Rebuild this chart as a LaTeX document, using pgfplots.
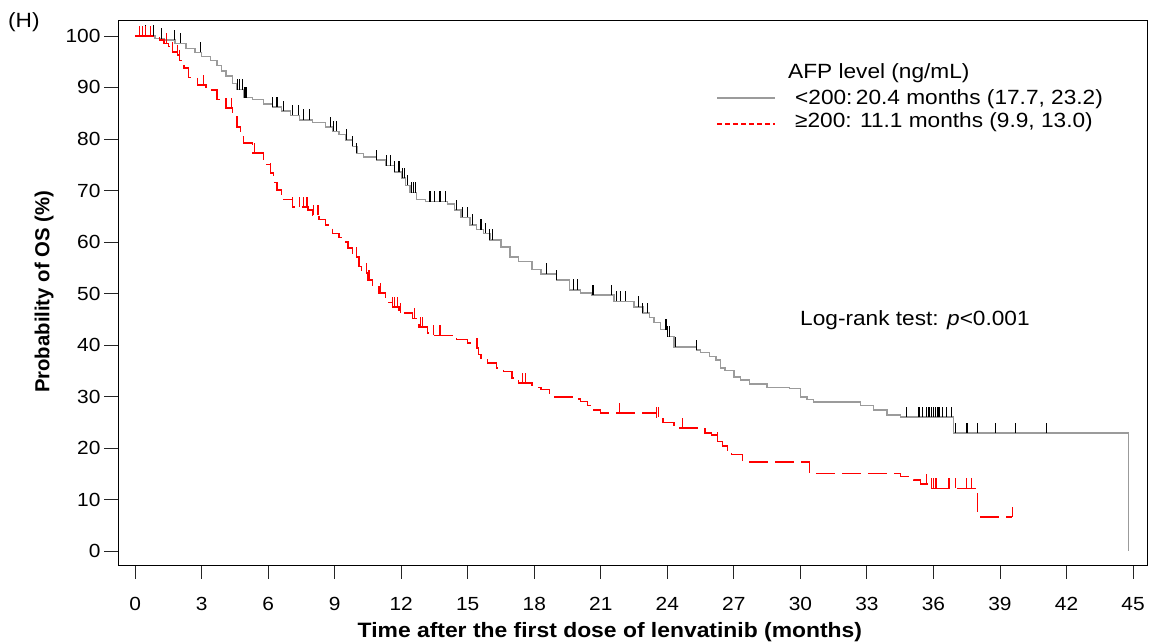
\documentclass[border=0pt]{standalone}
\usepackage{fontspec}
\setmainfont[FakeStretch=1.1]{Liberation Sans}
\newfontfamily\plainfont{Liberation Sans}
\usepackage{pgfplots}
\pgfplotsset{compat=1.18}
\definecolor{kmgray}{RGB}{155,155,155}
\definecolor{kmred}{RGB}{255,0,0}
\pgfdeclareplotmark{cens}{\pgfpathmoveto{\pgfqpoint{0pt}{0pt}}\pgfpathlineto{\pgfqpoint{0pt}{\pgfplotmarksize}}\pgfusepathqstroke}

\begin{document}
\begin{tikzpicture}
\path[use as bounding box] (0pt,0pt) rectangle (1149pt,644pt);
\begin{axis}[
  at={(118pt,79pt)}, anchor=south west,
  scale only axis, width=1029pt, height=545pt,
  xmin=-0.77, xmax=45.63, ymin=-2.72, ymax=103.1,
  xtick={0,3,...,45}, ytick={0,10,...,100},
  xtick pos=bottom, ytick pos=left,
  tick align=outside, major tick length=14pt,
  axis line style={line width=0.9pt, black},
  tick style={line width=0.9pt, black!85},
  /pgf/number format/assume math mode=true,
  ticklabel style={font=\fontsize{19}{22}\selectfont},
  xticklabel style={yshift=-15pt},
  xlabel={Time after the first dose of lenvatinib (months)},
  ylabel={Probability of OS (\%)},
  xlabel style={at={(axis description cs:0.478,-0.123)}, anchor=center, font=\fontsize{20.8}{24}\selectfont\bfseries},
  ylabel style={at={(axis description cs:-0.0719,0.501)}, anchor=center, font=\plainfont\fontsize{20.3}{24}\selectfont\bfseries},
]
% <200 group (gray)
\addplot[const plot, kmgray, line width=1.3pt] coordinates {
(0,100) (0.9,99.5) (1.3,99.2) (1.8,98.6) (2.3,97.6) (2.7,96.8) (3.0,96.0) (3.4,95.3)
(3.7,94.2) (3.9,93.2) (4.1,92.2) (4.4,90.8) (4.6,89.6) (4.9,88.0) (5.3,87.6) (5.8,86.8)
(6.2,86.2) (6.6,85.4) (7.0,84.6) (7.4,83.7) (8.0,83.2) (8.6,82.3) (8.9,81.5) (9.2,80.8)
(9.5,79.8) (9.8,78.6) (10.0,77.2) (10.3,76.5) (10.9,75.9) (11.3,74.8) (11.7,73.6)
(12.0,72.4) (12.2,71.0) (12.4,69.6) (12.7,68.2) (13.1,67.8) (14.1,67.4) (14.4,66.2)
(14.7,64.8) (15.1,63.3) (15.4,62.4) (15.7,61.7) (16.0,60.4) (16.5,59.0) (16.9,57.1)
(17.3,56.2) (17.9,54.6) (18.3,53.8) (19.0,52.6) (19.6,50.7) (20.1,50.1) (20.6,49.7)
(21.6,48.5) (22.5,47.4) (22.9,46.2) (23.2,45.3) (23.4,44.3) (23.7,43.0) (24.0,41.6)
(24.3,39.6) (25.3,39.0) (25.5,38.6) (25.9,37.8) (26.2,37.1) (26.4,35.5) (26.6,35.1)
(27.0,33.8) (27.3,33.2) (27.7,32.4) (28.5,31.8) (29.5,31.6) (30.0,29.9) (30.3,29.4)
(30.6,28.9) (32.7,28.3) (33.3,27.4) (33.9,26.4) (34.5,26.0) (36.9,22.9) (44.8,22.9) (44.8,0)
};
% >=200 group (red dashed)
\addplot[const plot, kmred, line width=1.3pt, dash pattern=on 19pt off 7pt] coordinates {
(0,100) (0.9,99.6) (1.1,99.2) (1.3,98.6) (1.5,98.0) (1.7,96.9) (1.9,96.3) (2.0,95.3)
(2.2,93.8) (2.4,92.0) (2.8,90.5) (3.2,89.5) (3.7,87.6) (4.1,86.0) (4.4,84.3) (4.6,82.3)
(4.75,80.5) (4.9,79.2) (5.3,77.3) (5.8,75.0) (6.1,73.4) (6.25,71.5) (6.4,70.1) (6.6,69.0)
(6.7,68.2) (7.1,66.8) (7.8,66.2) (8.0,65.2) (8.3,64.3) (8.6,63.3) (8.9,61.7) (9.2,60.8)
(9.4,60.0) (9.6,58.8) (9.8,57.1) (10.1,55.2) (10.2,54.0) (10.5,52.6) (10.7,51.3)
(11.0,50.1) (11.3,48.2) (11.6,47.4) (11.9,46.2) (12.5,45.2) (12.7,44.3) (12.8,43.5)
(13.2,42.3) (13.4,41.9) (14.5,41.1) (15.0,40.4) (15.4,39.4) (15.5,38.2) (15.6,37.1)
(15.9,36.5) (16.3,35.5) (16.6,34.8) (17.0,33.6) (17.3,32.6) (17.9,31.8) (18.3,31.4)
(18.7,29.9) (19.7,29.5) (20.1,29.0) (20.4,28.3) (20.6,27.4) (21.0,26.8) (23.5,26.0)
(23.8,25.0) (24.3,23.9) (25.7,22.9) (26.0,22.5) (26.2,21.2) (26.5,20.4) (26.7,19.6)
(26.9,18.8) (27.4,17.3) (30.4,15.1) (34.5,14.4) (35.1,13.8) (35.4,13.0) (35.8,12.2)
(38.0,6.6) (39.55,6.6)
};
% censor marks <200
\addplot[only marks, mark=cens, mark size=10.5pt, black, line width=1.1pt] coordinates {
(0.45,100) (0.83,100) (1.2,99.5) (1.76,99.2) (2.03,98.6) (2.93,96.8)
(4.6,89.6) (4.7,89.6) (4.85,89.6) (4.95,88.0) (5.0,88.0)
(6.2,86.2) (6.4,86.2) (6.7,85.4) (7.1,84.6) (7.35,84.6) (7.6,83.7) (7.85,83.7)
(8.8,82.3) (8.95,81.5) (9.1,81.5) (9.55,79.8) (9.8,78.6) (10.0,77.2) (10.9,75.9)
(11.35,74.8) (11.5,74.8) (11.7,73.6) (11.9,73.6) (12.05,72.4) (12.15,72.4) (12.3,71.0)
(12.45,69.6) (12.55,69.6) (12.65,69.6) (13.3,67.8) (13.5,67.8) (13.75,67.8) (14.0,67.8)
(14.5,66.2) (14.75,64.8) (15.0,64.8) (15.2,63.3) (15.6,62.4) (15.8,61.7) (16.0,60.4) (16.1,60.4)
(18.55,53.8) (19.0,52.6) (19.75,50.7) (19.95,50.7) (20.65,49.7)
(21.5,49.7) (21.7,48.5) (21.9,48.5) (22.1,48.5) (22.7,47.4) (22.9,46.2) (23.1,46.2)
(23.9,43.0) (23.95,43.0) (24.0,41.6) (24.1,41.6) (24.35,39.6) (25.3,39.0)
(34.8,26.0) (35.35,26.0) (35.5,26.0) (35.7,26.0) (35.8,26.0) (35.9,26.0) (36.0,26.0)
(36.1,26.0) (36.2,26.0) (36.25,26.0) (36.4,26.0) (36.6,26.0) (36.8,26.0)
(37.0,22.9) (37.5,22.9) (37.55,22.9) (38.0,22.9) (38.8,22.9) (39.7,22.9) (41.1,22.9)
};
% censor marks >=200
\addplot[only marks, mark=cens, mark size=10pt, kmred, line width=1.1pt] coordinates {
(0.2,100) (0.35,100) (0.45,100) (0.68,100) (1.4,98.6) (1.7,96.9) (1.9,96.3) (2.0,95.3)
(2.4,92.0) (3.1,90.5) (4.1,86.0) (4.35,86.0) (5.4,77.3) (6.1,73.4)
(7.1,66.8) (7.4,66.8) (7.6,66.8) (7.75,66.8) (8.05,65.2) (8.25,65.2)
(10.0,57.1) (10.45,54.0) (10.55,52.6) (11.05,50.1)
(11.6,47.4) (11.7,47.4) (11.85,47.4) (11.95,46.2) (12.6,45.2) (12.85,43.5) (12.95,43.5)
(13.45,41.9) (13.75,41.9) (15.4,39.4) (15.45,39.4) (17.45,32.6) (17.6,32.6)
(21.85,26.8) (23.5,26.0) (23.6,26.0) (24.7,23.9) (26.25,21.2)
(35.7,13.0) (35.9,12.2) (36.0,12.2) (36.1,12.2) (36.15,12.2) (36.7,12.2) (37.0,12.2)
(37.5,12.2) (37.7,12.2) (39.55,6.6)
};
\end{axis}
% legend
\draw[kmgray, line width=1.3pt] (717pt,546pt) -- (775pt,546pt);
\draw[kmred, line width=1.3pt, dash pattern=on 5pt off 3pt] (717pt,520pt) -- (775pt,520pt);
\node[anchor=west, inner sep=0pt, font=\fontsize{20.6}{24}\selectfont] at (788pt,571pt) {AFP level (ng/mL)};
\node[anchor=west, inner sep=0pt, font=\fontsize{20.6}{24}\selectfont] at (795pt,545pt) {<200:\,20.4 months (17.7, 23.2)};
\node[anchor=west, inner sep=0pt, font=\fontsize{20.6}{24}\selectfont] at (795pt,522pt) {≥200: 11.1 months (9.9, 13.0)};
\node[anchor=west, inner sep=0pt, font=\fontsize{20.6}{24}\selectfont] at (800pt,324pt) {Log-rank test: \textit{p}<0.001};
\node[anchor=west, inner sep=0pt, font=\fontsize{20.6}{24}\selectfont] at (8pt,622pt) {(H)};
\end{tikzpicture}
\end{document}
